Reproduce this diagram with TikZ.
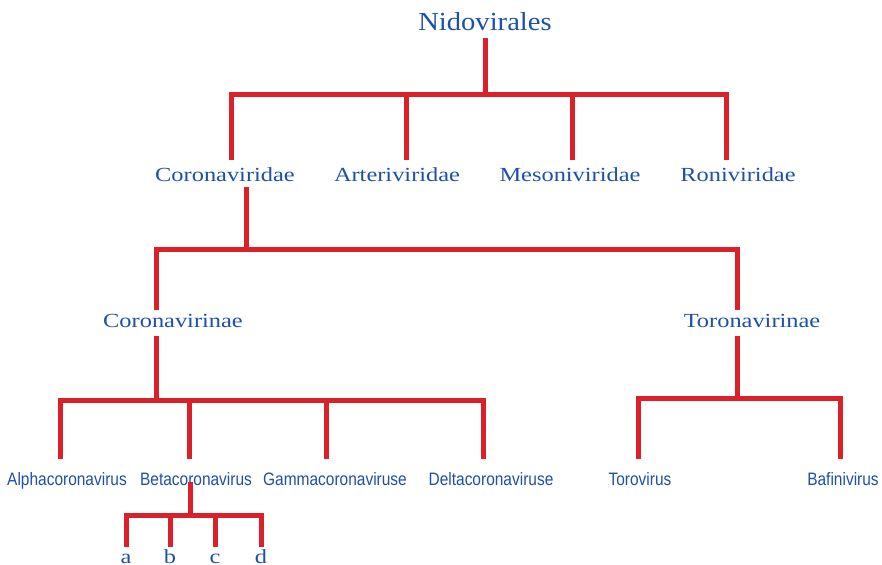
\documentclass[tikz,border=0pt]{standalone}
\usepackage{fontspec}
\newfontfamily\ordfont[FakeStretch=1.1]{Liberation Serif}
\newfontfamily\rankfont[FakeStretch=1.22]{Liberation Serif}
\newfontfamily\genusfont[FakeStretch=0.86]{Liberation Sans}
\usepackage{tikz}
\usetikzlibrary{positioning}
\definecolor{treered}{RGB}{218,32,40}
\definecolor{taxblue}{RGB}{28,80,170}

\begin{document}
\begin{tikzpicture}[x=1pt,y=-1pt,
                ordernode/.style={text=taxblue, font=\ordfont\fontsize{26}{30}\selectfont, anchor=base, inner sep=0pt, text depth=7pt},
                familynode/.style={text=taxblue, font=\rankfont\fontsize{20}{24}\selectfont, anchor=base, inner sep=0pt, text height=22pt, text depth=5pt},
                subfamnode/.style={familynode, text height=17pt, text depth=9pt},
                genusnode/.style={text=taxblue, font=\genusfont\fontsize{18}{22}\selectfont, anchor=base, inner sep=0pt, text height=26pt},
                speciesnode/.style={familynode, text height=16pt, text depth=0pt},
                branch/.style={draw=treered, line width=5pt},
            ]
            \useasboundingbox (0,0) rectangle (882,564);
            %Nodes
            \node[ordernode]    (nido)   at (485,31)  {Nidovirales};
            \node[familynode]   (corvid) at (225,182) {Coronaviridae};
            \node[familynode]   (artvid) at (397,182) {Arteriviridae};
            \node[familynode]   (mesvid) at (570,182) {Mesoniviridae};
            \node[familynode]   (ronvid) at (738,182) {Roniviridae};
            \node[subfamnode]   (corvin) at (173,327) {Coronavirinae};
            \node[subfamnode]   (torvin) at (752,327) {Toronavirinae};
            \node[genusnode]    (alpha)  at (67,485)  {Alphacoronavirus};
            \node[genusnode]    (beta)   at (196,485) {Betacoronavirus};
            \node[genusnode]    (gamma)  at (335,485) {Gammacoronaviruse};
            \node[genusnode]    (delta)  at (491,485) {Deltacoronaviruse};
            \node[genusnode]    (toro)   at (640,485) {Torovirus};
            \node[genusnode]    (bafini) at (843,485) {Bafinivirus};
            \node[speciesnode]  (spa)    at (126,563) {a};
            \node[speciesnode]  (spb)    at (170,563) {b};
            \node[speciesnode]  (spc)    at (215,563) {c};
            \node[speciesnode]  (spd)    at (261,563) {d};

            %Junctions
            \coordinate (jord)  at (485,95);
            \coordinate (jfam)  at (246,249);
            \coordinate (jcor)  at (156,400);
            \coordinate (jtor)  at (737,398);
            \coordinate (jbeta) at (190,515);

            %Lines
            \draw[branch] (nido.south) -- (jord);
            \draw[branch] ([xshift=6pt]corvid.north) |- (jord);
            \draw[branch] ([xshift=9pt]artvid.north) |- (jord);
            \draw[branch] ([xshift=2pt]mesvid.north) |- (jord);
            \draw[branch] ([xshift=-12pt]ronvid.north) |- (jord);
            \draw[branch] ([xshift=21pt]corvid.south) -- (jfam);
            \draw[branch] ([xshift=-17pt]corvin.north) |- (jfam);
            \draw[branch] ([xshift=-15pt]torvin.north) |- (jfam);
            \draw[branch] ([xshift=-17pt]corvin.south) -- (jcor);
            \draw[branch] ([xshift=-7pt]alpha.north) |- (jcor);
            \draw[branch] ([xshift=-7pt]beta.north) |- (jcor);
            \draw[branch] ([xshift=-9pt]gamma.north) |- (jcor);
            \draw[branch] ([xshift=-8pt]delta.north) |- (jcor);
            \draw[branch] ([xshift=-15pt]torvin.south) -- (jtor);
            \draw[branch] ([xshift=-2pt]toro.north) |- (jtor);
            \draw[branch] ([xshift=-3pt]bafini.north) |- (jtor);
            \draw[branch] ([xshift=-6pt,yshift=3pt]beta.base) -- (jbeta);
            \draw[branch] (spa.north) |- (jbeta);
            \draw[branch] (spb.north) |- (jbeta);
            \draw[branch] (spc.north) |- (jbeta);
            \draw[branch] (spd.north) |- (jbeta);
        \end{tikzpicture}
\end{document}
